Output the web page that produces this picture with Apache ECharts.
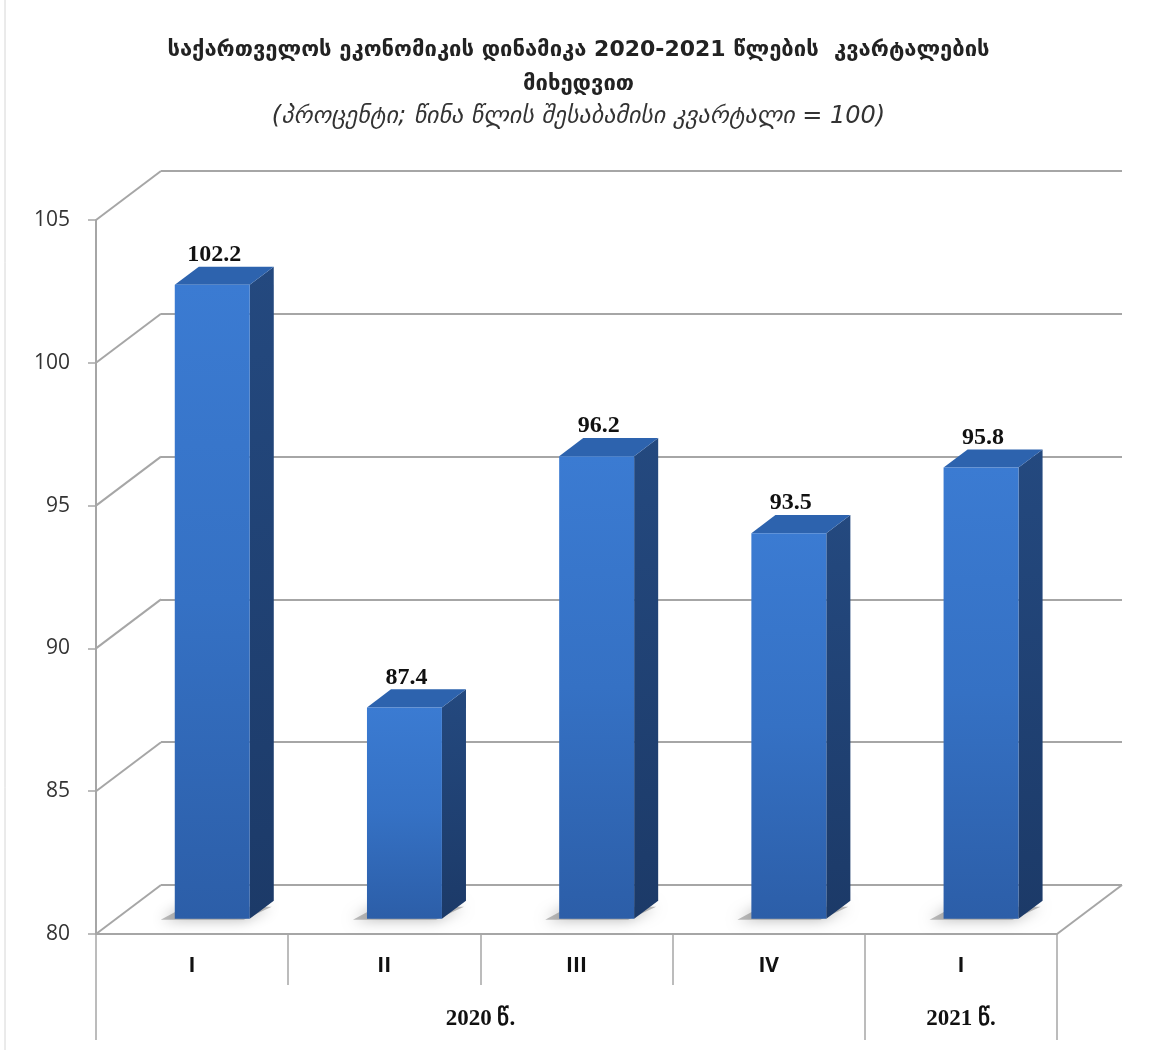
<!DOCTYPE html>
<html>
<head>
<meta charset="utf-8">
<script src="https://cdn.jsdelivr.net/npm/echarts@6/dist/echarts.min.js"></script>
<style>
  html, body { margin: 0; padding: 0; background: #fff; }
  #chart { width: 1157px; height: 1050px; }
</style>
</head>
<body>
<div id="chart"></div>
<script>
// quarters and GDP index (same quarter of previous year = 100)
const quarters = ['I', 'II', 'III', 'IV', 'I']
const values = [102.2, 87.4, 96.2, 93.5, 95.8]
const yearLabels = ['2020 წ.', '2021 წ.']
const yearSpans = [[0, 4], [4, 5]]   // quarter index ranges per year
const yTicks = [80, 85, 90, 95, 100, 105]

const AXIS_MIN = 80
const AXIS_MAX = 105
// pseudo 3d depth of the plot box (px)
const DEPTH_X = 65
const DEPTH_Y = -49
// bar sits between these depth fractions
const BAR_FRONT = 0.31
const BAR_BACK = 0.68

const chart = echarts.init(document.getElementById('chart'))

const renderWalls = (params, api) => {
  const v = api.value(0)
  const cs = params.coordSys
  const p = api.coord([0, v])
  const x = cs.x
  const children = [{
    type: 'line',
    shape: { x1: x, y1: p[1], x2: x + DEPTH_X, y2: p[1] + DEPTH_Y },
    style: { stroke: '#a6a6a6', lineWidth: 2 }
  }]
  if (v === AXIS_MIN) {
    const xr = cs.x + cs.width
    children.push({
      type: 'line',
      shape: { x1: xr, y1: p[1], x2: xr + DEPTH_X, y2: p[1] + DEPTH_Y },
      style: { stroke: '#a6a6a6', lineWidth: 2 }
    })
  }
  return { type: 'group', children }
}

const renderBar = (params, api) => {
  const idx = api.value(0)
  const val = api.value(1)
  const base = api.coord([idx, AXIS_MIN])
  const top = api.coord([idx, val])
  const bw = api.size([1, 0])[0] * 0.39
  const fx = BAR_FRONT * DEPTH_X, fy = BAR_FRONT * DEPTH_Y
  const dx = (BAR_BACK - BAR_FRONT) * DEPTH_X, dy = (BAR_BACK - BAR_FRONT) * DEPTH_Y
  const x0 = base[0] - bw / 2 + fx
  const x1 = x0 + bw
  const yb = base[1] + fy
  const yt = top[1] + fy

  return {
    type: 'group',
    children: [
      {
        type: 'polygon',
        shape: { points: [[x0 - 14, yb + 1], [x1 - 6, yb + 1], [x1 + dx - 2, yb + dy + 6], [x0 + dx - 14, yb + dy + 6]] },
        style: { fill: 'rgba(90,90,90,0.4)', shadowBlur: 14, shadowColor: 'rgba(0,0,0,0.75)' }
      },
      {
        type: 'polygon',
        shape: { points: [[x1, yt], [x1 + dx, yt + dy], [x1 + dx, yb + dy], [x1, yb]] },
        style: {
          fill: new echarts.graphic.LinearGradient(0, 0, 0, 1, [
            { offset: 0, color: '#24497f' },
            { offset: 1, color: '#1c3a68' }
          ])
        }
      },
      {
        type: 'polygon',
        shape: { points: [[x0, yt], [x1, yt], [x1 + dx, yt + dy], [x0 + dx, yt + dy]] },
        style: { fill: '#2d63ae' }
      },
      {
        type: 'rect',
        shape: { x: x0, y: yt, width: bw, height: yb - yt },
        style: {
          fill: new echarts.graphic.LinearGradient(0, 0, 0, 1, [
            { offset: 0, color: '#3b7bd2' },
            { offset: 0.5, color: '#3571c4' },
            { offset: 1, color: '#2c5ea8' }
          ])
        }
      },
      {
        type: 'text',
        style: {
          x: x0 + bw / 2 + 2,
          y: yt + dy,
          text: val.toFixed(1),
          align: 'center',
          verticalAlign: 'bottom',
          fontFamily: 'Liberation Serif',
          fontWeight: 'bold',
          fontSize: 24,
          fill: '#111'
        }
      }
    ]
  }
}

const option = {
  animation: false,
  title: {
    text: 'საქართველოს ეკონომიკის დინამიკა 2020-2021 წლების  კვარტალების\nმიხედვით',
    subtext: '(პროცენტი; წინა წლის შესაბამისი კვარტალი = 100)',
    left: 'center',
    top: 28,
    itemGap: 2,
    textStyle: { fontFamily: 'DejaVu Sans', fontSize: 22, fontWeight: 'bold', color: '#222', lineHeight: 34 },
    subtextStyle: { fontFamily: 'DejaVu Sans', fontSize: 24, fontStyle: 'italic', color: '#333', lineHeight: 28 }
  },
  graphic: [{
    type: 'line',
    shape: { x1: 5, y1: 0, x2: 5, y2: 1050 },
    style: { stroke: '#d6d6d6', lineWidth: 1 }
  }],
  grid: [
    { left: 96, right: 100, top: 220, bottom: 116 },
    { left: 96 + DEPTH_X, right: 100 - DEPTH_X, top: 220 + DEPTH_Y, bottom: 116 - DEPTH_Y }
  ],
  xAxis: [
    {
      type: 'category',
      gridIndex: 0,
      data: quarters,
      position: 'bottom',
      axisLine: { lineStyle: { color: '#a6a6a6', width: 2 } },
      axisTick: { show: true, interval: 0, length: 51, lineStyle: { color: '#a6a6a6', width: 1.5 } },
      axisLabel: { interval: 0, margin: 22, fontFamily: 'Open Sans', fontWeight: 'bold', fontSize: 21, color: '#111' }
    },
    {
      type: 'value',
      gridIndex: 0,
      position: 'bottom',
      min: 0,
      max: quarters.length,
      splitLine: { show: false },
      axisLine: { show: false },
      axisTick: {
        show: true,
        length: 106,
        customValues: [0].concat(yearSpans.map(s => s[1])),
        lineStyle: { color: '#a6a6a6', width: 1.5 }
      },
      axisLabel: {
        margin: 74,
        customValues: yearSpans.map(s => (s[0] + s[1]) / 2),
        formatter: v => yearLabels[yearSpans.findIndex(s => (s[0] + s[1]) / 2 === v)],
        fontFamily: 'Liberation Serif',
        fontWeight: 'bold',
        fontSize: 23,
        color: '#111'
      }
    },
    { type: 'category', gridIndex: 1, data: quarters, show: false }
  ],
  yAxis: [
    {
      type: 'value',
      gridIndex: 0,
      min: AXIS_MIN,
      max: AXIS_MAX,
      interval: 5,
      splitLine: { show: false },
      axisLine: { show: true, lineStyle: { color: '#a6a6a6', width: 2 } },
      axisTick: { show: true, length: 8, lineStyle: { color: '#a6a6a6', width: 1.5 } },
      axisLabel: { margin: 26, fontFamily: 'Open Sans', fontSize: 21, color: '#333' }
    },
    {
      type: 'value',
      gridIndex: 1,
      min: AXIS_MIN,
      max: AXIS_MAX,
      interval: 5,
      axisLine: { show: false },
      axisTick: { show: false },
      axisLabel: { show: false },
      splitLine: { show: true, lineStyle: { color: '#a6a6a6', width: 2 } }
    }
  ],
  series: [
    {
      type: 'custom',
      name: 'walls',
      xAxisIndex: 0,
      yAxisIndex: 0,
      renderItem: renderWalls,
      data: yTicks.map(v => [v]),
      encode: { y: 0 },
      silent: true,
      clip: false,
      z: 1
    },
    {
      type: 'custom',
      name: 'bars',
      xAxisIndex: 0,
      yAxisIndex: 0,
      renderItem: renderBar,
      data: values.map((v, i) => [i, v]),
      encode: { x: 0, y: 1 },
      clip: false,
      z: 3
    }
  ]
}

chart.setOption(option)
</script>
</body>
</html>
